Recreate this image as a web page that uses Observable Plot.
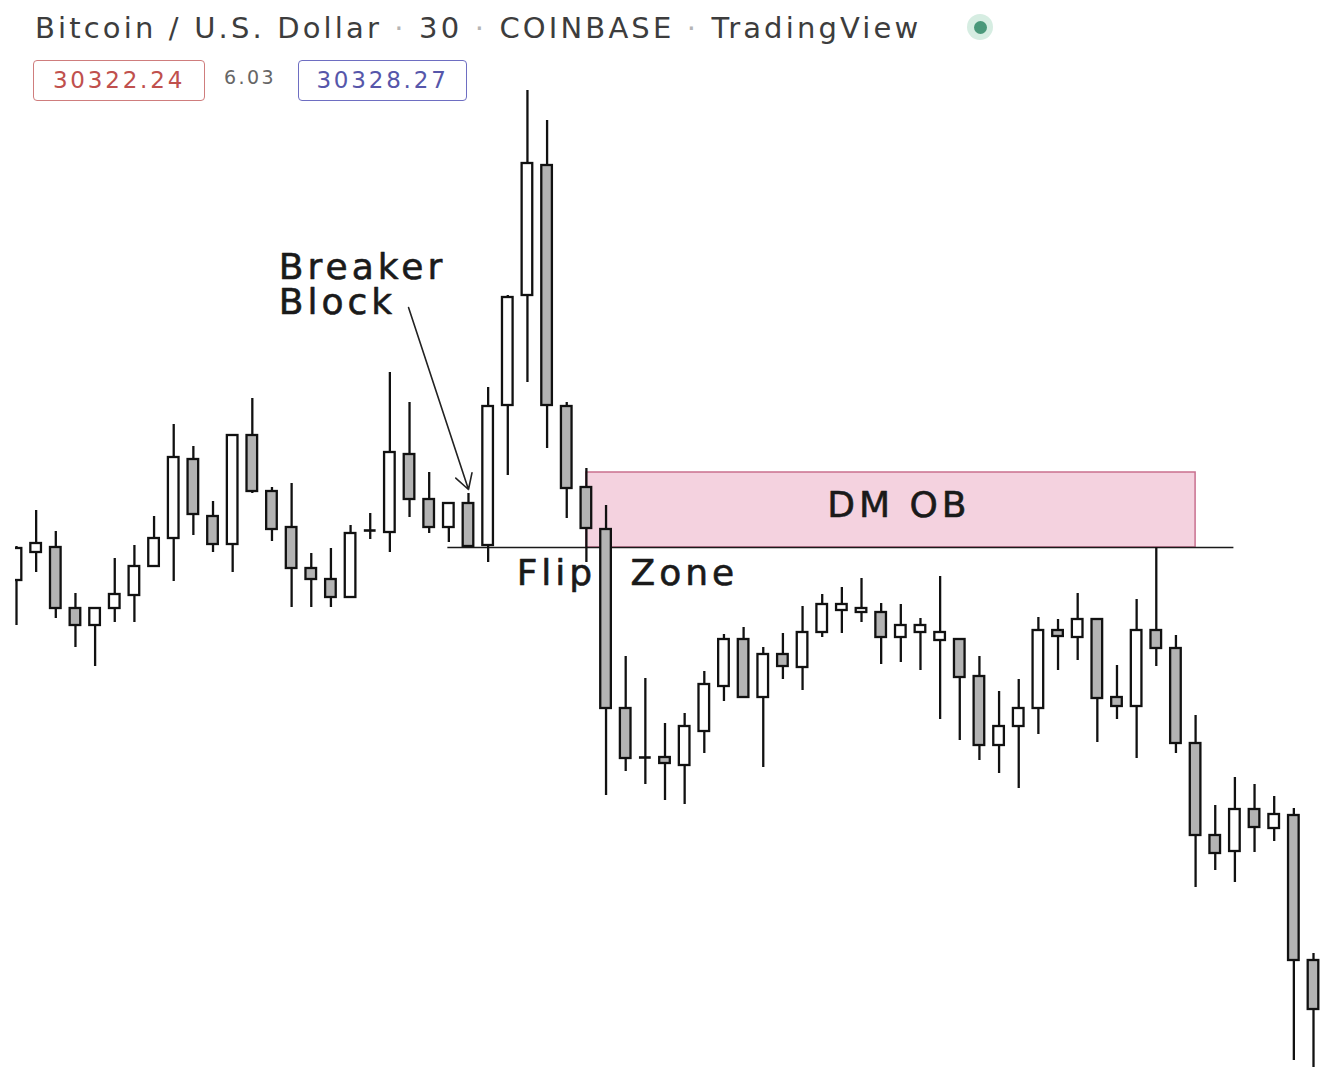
<!DOCTYPE html>
<html><head><meta charset="utf-8">
<script src="https://cdn.jsdelivr.net/npm/d3@7"></script>
<script src="https://cdn.jsdelivr.net/npm/@observablehq/plot@0.6"></script>
<style>
html,body{margin:0;padding:0;background:#fff;}
#wrap{position:relative;width:1321px;height:1068px;overflow:hidden;font-family:"DejaVu Sans",sans-serif;}
#chart{position:absolute;left:0;top:0;}
#title{position:absolute;left:35px;top:11px;font-size:29px;color:#3d3d3d;letter-spacing:3.15px;white-space:nowrap;}
.sep{color:#b5b5b5;}
#dot{position:absolute;left:967px;top:14px;width:26px;height:26px;border-radius:50%;background:#d6ede2;}
#dot::after{content:"";position:absolute;left:6.5px;top:6.5px;width:13px;height:13px;border-radius:50%;background:#4a987a;}
.box{position:absolute;top:60px;border:1.5px solid;border-radius:4px;font-size:23px;line-height:38px;text-align:center;letter-spacing:2.8px;box-sizing:border-box;height:41px;}
#chg{position:absolute;left:224px;top:66px;font-size:19px;color:#666;letter-spacing:2.4px;}
</style>
</head><body>
<div id="wrap">
  <div id="chart"></div>
  <div id="title">Bitcoin / U.S. Dollar <span class="sep">·</span> 30 <span class="sep">·</span> COINBASE <span class="sep">·</span> TradingView</div>
  <div id="dot"></div>
  <div class="box" id="bid" style="left:33px;width:172px;border-color:#cf7d7d;color:#c0504d;">30322.24</div>
  <div id="chg">6.03</div>
  <div class="box" id="ask" style="left:298px;width:169px;border-color:#6e6ec2;color:#5656aa;">30328.27</div>
</div>
<script>
// 30-minute candles, prices
const open  = [30751,30779,30784,30723,30706,30723,30736,30765,30793,30872,30815,30787,30896,30840,30804,30763,30752,30734,30801,30799,30877,30832,30804,30828,30786,30926,31036,31166,30925,30844,30802,30623,30574,30574,30566,30600,30645,30692,30634,30677,30664,30699,30721,30719,30719,30694,30699,30691,30692,30655,30586,30605,30623,30701,30694,30712,30634,30625,30701,30683,30588,30496,30480,30522,30503,30516,30371];
const high  = [30785,30821,30800,30738,30724,30773,30786,30815,30907,30885,30830,30896,30933,30844,30848,30778,30783,30806,30818,30959,30929,30859,30828,30838,30944,31036,31241,31211,30929,30863,30826,30675,30653,30608,30618,30660,30697,30704,30684,30698,30725,30737,30744,30753,30728,30727,30713,30755,30693,30675,30640,30652,30714,30712,30738,30713,30666,30732,30784,30696,30616,30526,30554,30547,30535,30523,30378];
const low   = [30706,30759,30713,30684,30665,30709,30709,30765,30750,30796,30779,30759,30838,30790,30724,30724,30724,30734,30792,30779,30814,30798,30789,30785,30769,30856,30949,30883,30813,30769,30536,30560,30547,30531,30527,30578,30630,30634,30564,30652,30641,30694,30698,30709,30667,30669,30661,30612,30591,30571,30558,30543,30597,30661,30671,30589,30612,30573,30665,30578,30444,30461,30449,30479,30490,30271,30264];
const close = [30783,30788,30723,30706,30723,30737,30765,30793,30874,30817,30787,30896,30840,30802,30763,30752,30734,30798,30801,30879,30832,30804,30828,30785,30925,31034,31168,30926,30843,30803,30623,30573,30574,30568,30605,30647,30692,30634,30677,30665,30699,30727,30727,30723,30694,30706,30706,30699,30654,30586,30605,30623,30701,30695,30712,30633,30625,30701,30683,30588,30496,30478,30522,30504,30517,30371,30322];

// annotations (candle index, price)
const zoneNames  = ["DM OB"];
const zoneFrom   = [29];
const zoneTo     = [60];
const zoneLow    = [30784];
const zoneHigh   = [30859];

const levelNames = ["Flip Zone"];
const levelPrice = [30784];
const levelFrom  = [21.95];
const levelTo    = [61.95];

const labelTexts  = ["Breaker", "Block", "Flip", "Zone", "DM OB"];
const labelX      = [13.35, 13.35, 25.45, 31.25, 44.9];
const labelPrice  = [31064, 31029, 30758, 30758, 30826];
const labelAnchor = ["start", "start", "start", "start", "middle"];

const arrowFrom = [19.95, 31024];
const arrowTo   = [23, 30842];

const candles = open.map((o, i) => ({i, open: o, high: high[i], low: low[i], close: close[i]}));
const zones = zoneNames.map((n, k) => ({n, x1: zoneFrom[k], x2: zoneTo[k], y1: zoneLow[k], y2: zoneHigh[k]}));
const levels = levelNames.map((n, k) => ({n, y: levelPrice[k], x1: levelFrom[k], x2: levelTo[k]}));
const labels = labelTexts.map((t, k) => ({t, x: labelX[k], y: labelPrice[k], a: labelAnchor[k]}));
const halfBody = 0.27;

const up = d => d.close > d.open;
const down = d => d.close < d.open;
const flat = d => d.close === d.open;

const chart = Plot.plot({
  width: 1321, height: 1068,
  marginLeft: 15, marginRight: 0, marginTop: 0, marginBottom: 0,
  x: {domain: [0, 66], range: [16, 1313], axis: null},
  y: {domain: [30263, 31331], range: [1068, 0], axis: null},
  style: {fontFamily: "DejaVu Sans", background: "transparent", letterSpacing: "4px"},
  marks: [
    Plot.rect(zones, {x1: "x1", x2: "x2", y1: "y1", y2: "y2", fill: "#f4d2df", stroke: "#c9708f", strokeWidth: 1.5}),
    Plot.ruleY(levels, {y: "y", x1: "x1", x2: "x2", stroke: "#1a1a1a", strokeWidth: 1.6}),
    Plot.ruleX(candles, {x: "i", y1: "low", y2: "high", stroke: "#111", strokeWidth: 2.3, clip: true}),
    Plot.rect(candles, {filter: up, x1: d => d.i - halfBody, x2: d => d.i + halfBody, y1: "open", y2: "close", fill: "#fff", stroke: "#111", strokeWidth: 2.3, clip: true}),
    Plot.rect(candles, {filter: down, x1: d => d.i - halfBody, x2: d => d.i + halfBody, y1: "open", y2: "close", fill: "#b3b3b3", stroke: "#111", strokeWidth: 2.3, clip: true}),
    Plot.ruleY(candles, {filter: flat, y: "open", x1: d => d.i - halfBody - 0.03, x2: d => d.i + halfBody + 0.03, stroke: "#111", strokeWidth: 2.6}),
    Plot.text(labels, {filter: d => d.a === "start", x: "x", y: "y", text: "t", textAnchor: "start", fontSize: 36, fill: "#1a1a1a", stroke: "#1a1a1a", strokeWidth: 0.6}),
    Plot.text(labels, {filter: d => d.a === "middle", x: "x", y: "y", text: "t", textAnchor: "middle", fontSize: 36, fill: "#1a1a1a", stroke: "#1a1a1a", strokeWidth: 0.6}),
    Plot.arrow([{x1: arrowFrom[0], y1: arrowFrom[1], x2: arrowTo[0], y2: arrowTo[1]}], {x1: "x1", y1: "y1", x2: "x2", y2: "y2", stroke: "#222", strokeWidth: 1.6, headLength: 16, headAngle: 60})
  ]
});
document.getElementById("chart").appendChild(chart);
</script>
</body></html>
